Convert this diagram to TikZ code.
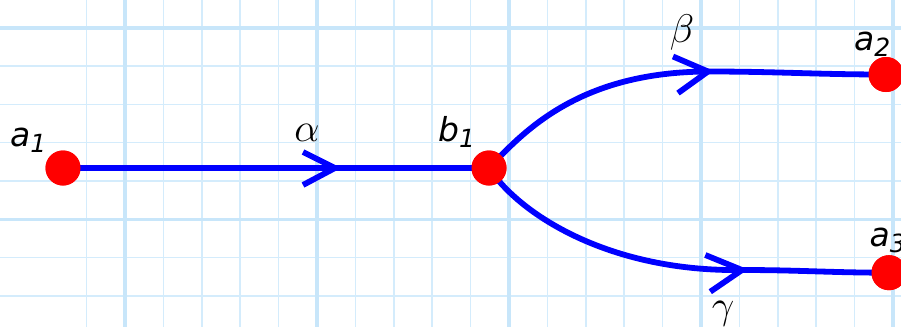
\RequirePackage{fix-cm}
\documentclass[tikz,border=0pt]{standalone}
\usepackage{fontspec}
\newfontfamily\lblfont{DejaVu Sans}
\usetikzlibrary{calc}
\definecolor{gridminor}{RGB}{212,236,252}
\definecolor{gridmajor}{RGB}{200,230,250}
\definecolor{edgeblue}{RGB}{0,0,255}
\definecolor{ptred}{RGB}{255,0,0}
\newcommand\vlab[2]{{\lblfont\itshape\fontsize{33}{36}\selectfont #1\raisebox{-6pt}{\fontsize{25}{25}\selectfont #2}}}
\newcommand\glab[1]{{\fontsize{40}{48}\selectfont$#1$}}
\tikzset{
  vertex/.style={circle,fill=ptred,draw=none,minimum size=35pt,inner sep=0pt},
  edge/.style={draw=edgeblue,line width=5.8pt},
  chev/.style={draw=edgeblue,line width=5.8pt,line join=miter},
  lab/.style={inner sep=0pt,anchor=base west},
  glabel/.style={inner sep=0pt,anchor=base},
}
\begin{document}
\begin{tikzpicture}[x=1pt,y=-1pt]
\useasboundingbox (0,0) rectangle (901,327);
\fill[white] (0,0) rectangle (901,327);
% grid
\foreach \i in {-1,...,23} {
  \pgfmathsetmacro\xx{125+38.4*\i}
  \draw[gridminor,line width=1.5pt] (\xx,0) -- (\xx,327);
}
\foreach \i in {-1,...,7} {
  \pgfmathsetmacro\yy{27.8+38.3*\i}
  \draw[gridminor,line width=1.5pt] (0,\yy) -- (901,\yy);
}
\foreach \xx in {125,317,509,701,893}
  \draw[gridmajor,line width=3.5pt] (\xx,0) -- (\xx,327);
\foreach \yy in {27.8,219.3}
  \draw[gridmajor,line width=3.5pt] (0,\yy) -- (901,\yy);

% nodes
\node[vertex] (a1) at (63,168) {};
\node[vertex] (b1) at (489,168) {};
\node[vertex] (a2) at (886,74.5) {};
\node[vertex] (a3) at (889,272.7) {};
\coordinate (tipa) at (335,168);
\coordinate (tipb) at (708,71.5);
\coordinate (tipc) at (742,270);

% edges
\draw[edge] (a1.center) -- (b1.center);
\draw[edge] (b1.center) .. controls (525,130) and (580,72) .. (tipb) to[out=0,in=180] (a2.center);
\draw[edge] (b1.center) .. controls (520,215) and (610,272) .. (tipc) to[out=0,in=180] (a3.center);
% chevrons
\draw[chev] ($(tipa)+(-32,-16)$) -- (tipa) -- ($(tipa)+(-32,17)$);
\draw[chev] ($(tipb)+(-35,-15)$) -- (tipb) -- ($(tipb)+(-30,21.6)$);
\draw[chev] ($(tipc)+(-36.7,-15)$) -- (tipc) -- ($(tipc)+(-31.7,21.7)$);

% vertices on top
\node[vertex] at (a1) {};
\node[vertex] at (b1) {};
\node[vertex] at (a2) {};
\node[vertex] at (a3) {};

% labels
\node[lab] (la1) at (10,146.7) {\vlab{a}{1}};
\node[lab] (lb1) at (438,141.7) {\vlab{b}{1}};
\node[lab] (la2) at (854,50.7) {\vlab{a}{2}};
\node[lab] (la3) at (869.5,246.7) {\vlab{a}{3}};
\node[glabel] (lal) at (307,141) {\glab{\alpha}};
\node[glabel] (lbe) at (682,42.5) {\glab{\beta}};
\node[glabel] (lga) at (723,318.9) {\glab{\gamma}};
\end{tikzpicture}
\end{document}
